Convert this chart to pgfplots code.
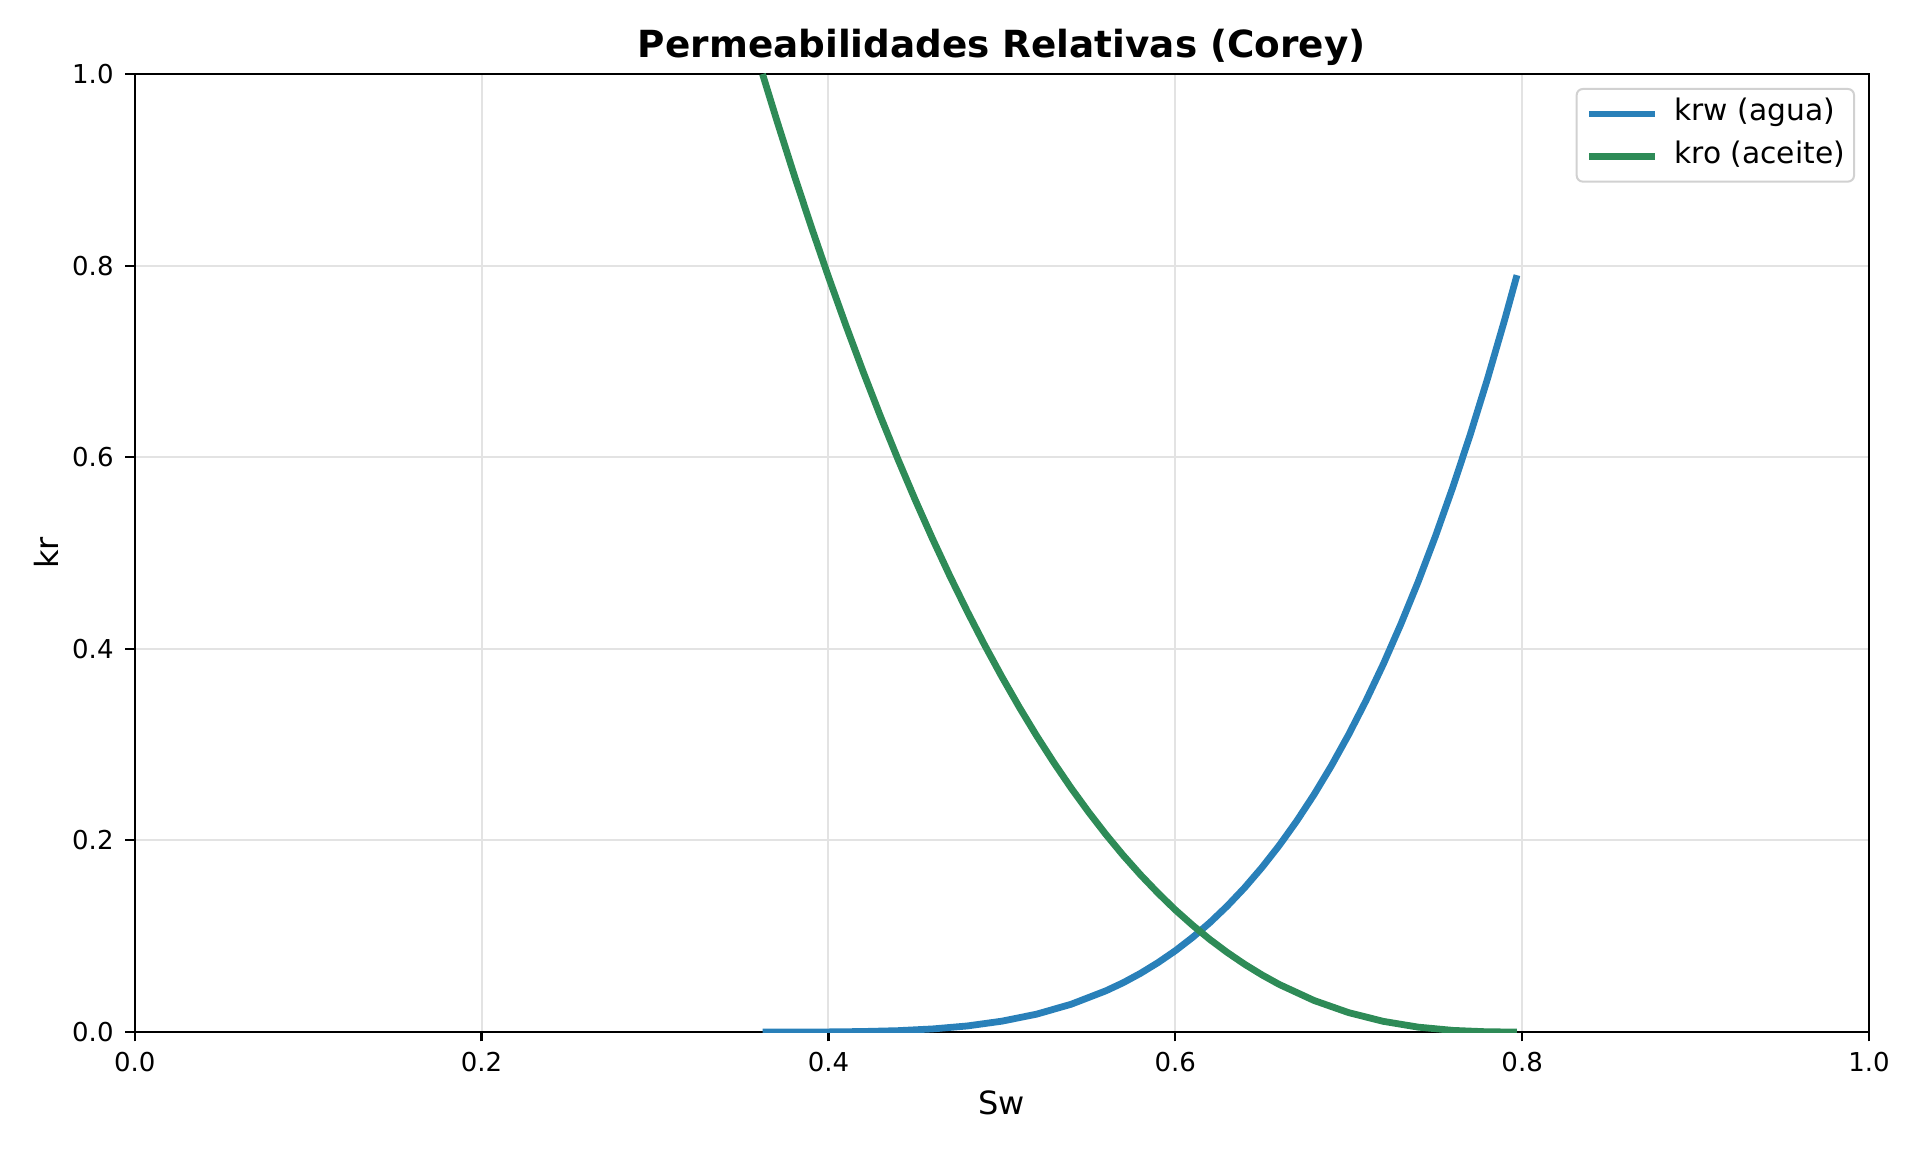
\documentclass[border=0pt]{standalone}
\usepackage{fontspec}
\setmainfont{DejaVu Sans}
\usepackage{pgfplots}
\pgfplotsset{compat=1.18}
\definecolor{cblue}{HTML}{2980B9}
\definecolor{cgreen}{HTML}{2E8B57}
\begin{document}
\begin{tikzpicture}
\path[use as bounding box] (0,0) rectangle (960pt,576pt);
\begin{axis}[
  at={(67.35pt,60pt)}, anchor=south west,
  scale only axis, width=867.15pt, height=479pt,
  xmin=0, xmax=1, ymin=0, ymax=1,
  xtick={0,0.2,0.4,0.6,0.8,1}, ytick={0,0.2,0.4,0.6,0.8,1},
  xticklabels={0.0,0.2,0.4,0.6,0.8,1.0},
  yticklabels={0.0,0.2,0.4,0.6,0.8,1.0},
  tick pos=left, tick align=outside, major tick length=4.67pt,
  tick style={black, line width=1.07pt},
  axis line style={line width=1.07pt},
  grid=major, major grid style={line width=1pt, color=black!11},
  tick label style={font=\fontsize{13}{15}\selectfont},
  xticklabel style={anchor=north, inner sep=0pt, yshift=-5.2pt},
  yticklabel style={anchor=east, inner sep=0pt, xshift=-5.7pt},
  legend style={at={(1,1)}, anchor=north east, xshift=-7pt, yshift=-7pt,
    draw=black!18, line width=1pt, rounded corners=3pt, fill=white,
    inner xsep=4.5pt, inner ysep=5pt,
    font=\fontsize{14.85}{17.5}\selectfont,
    nodes={inner sep=0pt, text height=11pt, text depth=4pt},
    row sep=6.3pt,
    /tikz/every odd column/.append style={column sep=8pt}},
  legend cell align=left,
  legend image code/.code={\draw[#1] (0pt,0pt) -- (33pt,0pt);},
]
\addplot[cblue, line width=3.4pt] table {
x y
0.362 0.0000
0.38 0.0000
0.40 0.0001
0.42 0.0005
0.44 0.0014
0.46 0.0032
0.48 0.0063
0.50 0.0113
0.52 0.0186
0.54 0.0290
0.56 0.0430
0.57 0.0515
0.58 0.0613
0.59 0.0724
0.60 0.0848
0.61 0.0988
0.62 0.1143
0.63 0.1316
0.64 0.1507
0.65 0.1718
0.66 0.1949
0.67 0.2202
0.68 0.2478
0.69 0.2779
0.70 0.3106
0.71 0.3460
0.72 0.3842
0.73 0.4255
0.74 0.4698
0.75 0.5175
0.76 0.5686
0.77 0.6232
0.78 0.6817
0.79 0.7440
0.797 0.7900
};
\addlegendentry{krw (agua)}
\addplot[cgreen, line width=3.4pt] table {
x y
0.362 1.0000
0.37 0.9529
0.38 0.8959
0.39 0.8411
0.40 0.7884
0.41 0.7379
0.42 0.6893
0.43 0.6427
0.44 0.5982
0.45 0.5556
0.46 0.5149
0.47 0.4761
0.48 0.4392
0.49 0.4041
0.50 0.3708
0.51 0.3392
0.52 0.3093
0.53 0.2811
0.54 0.2545
0.55 0.2296
0.56 0.2062
0.57 0.1843
0.58 0.1640
0.59 0.1451
0.60 0.1275
0.61 0.1114
0.62 0.0965
0.63 0.0830
0.64 0.0707
0.65 0.0596
0.66 0.0496
0.68 0.0329
0.70 0.0202
0.72 0.0111
0.74 0.0051
0.76 0.0017
0.78 0.0002
0.797 0.0000
};
\addlegendentry{kro (aceite)}
\end{axis}
\node[anchor=base, font=\fontsize{18.67}{22}\selectfont\bfseries] at (500.9pt,547.3pt) {Permeabilidades Relativas (Corey)};
\node[anchor=base, font=\fontsize{16}{19}\selectfont] at (500.9pt,19pt) {Sw};
\node[anchor=base, rotate=90, font=\fontsize{16}{19}\selectfont] at (29pt,299.5pt) {kr};
\end{tikzpicture}
\end{document}
